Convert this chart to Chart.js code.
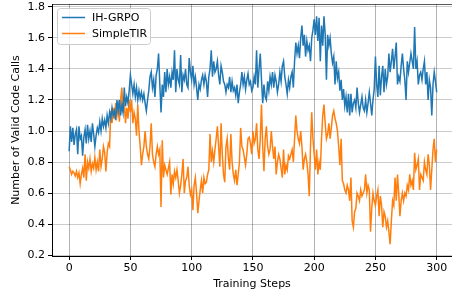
<!DOCTYPE html>
<html>
<head>
<meta charset="utf-8">
<script src="https://cdn.jsdelivr.net/npm/chart.js@4/dist/chart.umd.min.js"></script>
<style>
  html, body { margin: 0; padding: 0; background: #fff; overflow: hidden; }
  canvas { display: block; }
</style>
</head>
<body>
<canvas id="chart" width="452" height="293"></canvas>
<script>
// values, one per training step (0..300)
const ihGrpo = [
  0.87, 1.03, 0.93, 1.02, 0.91, 0.98, 1.01, 0.85, 1.03, 0.95,
  0.97, 0.84, 0.96, 1.01, 0.92, 1.04, 0.95, 1.00, 0.93, 1.05,
  0.98, 0.90, 0.97, 1.02, 0.99, 1.06, 1.00, 1.08, 1.03, 1.07,
  1.02, 1.10, 1.05, 1.12, 1.08, 1.15, 1.10, 1.13, 1.07, 1.20,
  1.13, 1.20, 1.10, 1.17, 1.12, 1.28, 1.16, 1.22, 1.18, 1.26,
  1.36, 1.30, 1.24, 1.30, 1.22, 1.28, 1.20, 1.26, 1.21, 1.25,
  1.20, 1.24, 1.18, 1.13, 1.20, 1.26, 1.35, 1.38, 1.28, 1.33,
  1.22, 1.36, 1.40, 1.50, 1.30, 1.12, 1.30, 1.22, 1.38, 1.25,
  1.40, 1.30, 1.35, 1.28, 1.38, 1.33, 1.52, 1.25, 1.40, 1.33,
  1.30, 1.49, 1.25, 1.36, 1.33, 1.40, 1.30, 1.28, 1.47, 1.38,
  1.33, 1.42, 1.30, 1.35, 1.28, 1.20, 1.30, 1.27, 1.33, 1.36,
  1.30, 1.36, 1.32, 1.22, 1.35, 1.40, 1.52, 1.35, 1.45, 1.38,
  1.40, 1.45, 1.36, 1.30, 1.42, 1.38, 1.32, 1.30, 1.25, 1.30,
  1.28, 1.35, 1.25, 1.32, 1.26, 1.28, 1.23, 1.30, 1.18, 1.25,
  1.30, 1.38, 1.30, 1.35, 1.27, 1.33, 1.37, 1.30, 1.32, 1.26,
  1.28, 1.35, 1.30, 1.52, 1.28, 1.40, 1.50, 1.33, 1.18, 1.30,
  1.22, 1.20, 1.32, 1.26, 1.35, 1.30, 1.38, 1.28, 1.36, 1.32,
  1.25, 1.30, 1.38, 1.32, 1.42, 1.45, 1.35, 1.30, 1.24, 1.33,
  1.28, 1.35, 1.38, 1.28, 1.45, 1.57, 1.50, 1.55, 1.47, 1.60,
  1.68, 1.55, 1.62, 1.48, 1.58, 1.52, 1.55, 1.45, 1.60, 1.65,
  1.72, 1.62, 1.74, 1.58, 1.73, 1.45, 1.68, 1.55, 1.74, 1.62,
  1.33, 1.62, 1.55, 1.60, 1.50, 1.44, 1.48, 1.30, 1.45, 1.34,
  1.38, 1.26, 1.33, 1.20, 1.27, 1.16, 1.22, 1.12, 1.24, 1.10,
  1.24, 1.12, 1.18, 1.20, 1.15, 1.28, 1.18, 1.12, 1.17, 1.22,
  1.15, 1.13, 1.20, 1.12, 1.18, 1.25, 1.18, 1.10, 1.20, 1.27,
  1.48, 1.30, 1.22, 1.42, 1.23, 1.35, 1.42, 1.25, 1.40, 1.30,
  1.35, 1.50, 1.38, 1.45, 1.53, 1.40, 1.48, 1.57, 1.30, 1.35,
  1.32, 1.42, 1.50, 1.40, 1.33, 1.20, 1.45, 1.38, 1.44, 1.50,
  1.45, 1.40, 1.67, 1.40, 1.45, 1.30, 1.36, 1.38, 1.33, 1.40,
  1.45, 1.30, 1.38, 1.20, 1.33, 1.28, 1.10, 1.30, 1.38, 1.32,
  1.25
];
const simpleTir = [
  0.77, 0.75, 0.72, 0.74, 0.73, 0.71, 0.74, 0.70, 0.73, 0.66,
  0.72, 0.76, 0.70, 0.85, 0.68, 0.80, 0.76, 0.82, 0.74, 0.79,
  0.76, 0.83, 0.75, 0.80, 0.74, 0.88, 0.77, 0.82, 0.90, 0.86,
  0.74, 0.86, 0.92, 0.90, 1.13, 1.05, 1.15, 1.08, 1.18, 1.10,
  1.16, 1.06, 1.20, 1.28, 1.12, 1.18, 1.05, 1.15, 1.08, 1.20,
  1.12, 1.20, 1.05, 1.12, 1.08, 0.97, 1.17, 1.00, 0.90, 0.78,
  0.85, 0.90, 1.00, 0.90, 0.85, 0.82, 0.90, 1.05, 0.85, 0.80,
  0.77, 0.85, 0.90, 0.85, 0.88, 0.51, 0.94, 0.70, 0.78, 0.75,
  0.72, 0.76, 0.80, 0.59, 0.72, 0.66, 0.74, 0.70, 0.75, 0.68,
  0.60, 0.65, 0.72, 0.82, 0.60, 0.68, 0.70, 0.77, 0.65, 0.59,
  0.62, 0.49, 0.65, 0.70, 0.60, 0.47, 0.55, 0.62, 0.68, 0.60,
  0.70, 0.66, 0.67, 0.72, 0.75, 0.98, 0.80, 0.87, 0.80, 0.88,
  0.95, 1.03, 0.90, 0.77, 1.05, 0.85, 0.72, 0.67, 0.90, 0.95,
  0.82, 0.75, 0.98, 0.80, 0.72, 0.68, 0.75, 0.65, 0.72, 0.80,
  1.02, 0.90, 0.88, 0.83, 0.78, 0.85, 0.95, 0.96, 0.92, 0.85,
  1.00, 0.92, 0.95, 1.05, 0.88, 0.82, 0.95, 1.17, 0.90, 0.74,
  0.95, 1.03, 0.90, 0.85, 0.88, 1.00, 0.90, 0.82, 0.90, 0.72,
  0.80, 0.85, 0.82, 0.76, 0.70, 0.88, 0.72, 0.78, 0.75, 0.84,
  0.82, 0.85, 0.88, 0.80, 0.95, 1.10, 1.00, 0.95, 0.92, 1.00,
  0.90, 0.75, 0.82, 0.85, 0.80, 0.72, 0.58, 0.90, 1.12, 0.95,
  0.85, 0.75, 0.88, 0.72, 0.80, 0.75, 0.95, 1.10, 1.17, 1.05,
  0.95, 0.98, 1.05, 0.95, 1.02, 1.10, 1.13, 1.08, 1.05, 1.00,
  0.90, 0.78, 0.95, 0.68, 0.66, 0.62, 0.60, 0.65, 0.62, 0.55,
  0.70, 0.42, 0.38, 0.48, 0.50, 0.60, 0.58, 0.55, 0.62, 0.58,
  0.60, 0.62, 0.72, 0.60, 0.65, 0.62, 0.35, 0.50, 0.60, 0.55,
  0.52, 0.58, 0.62, 0.45, 0.58, 0.52, 0.38, 0.48, 0.45, 0.38,
  0.42, 0.35, 0.27, 0.42, 0.55, 0.52, 0.70, 0.55, 0.72, 0.60,
  0.45, 0.55, 0.60, 0.55, 0.60, 0.58, 0.65, 0.62, 0.72, 0.65,
  0.68, 0.62, 0.86, 0.75, 0.78, 0.82, 0.62, 0.72, 0.70, 0.68,
  0.80, 0.75, 0.72, 0.85, 0.78, 0.62, 0.75, 0.88, 0.95, 0.80,
  0.88
];
const seriesNames = ['IH-GRPO', 'SimpleTIR'];
const seriesColors = ['#1f77b4', '#ff7f0e'];
const xTicks = [0, 50, 100, 150, 200, 250, 300];
const yTicks = [0.2, 0.4, 0.6, 0.8, 1.0, 1.2, 1.4, 1.6, 1.8];

const FONT = 'DejaVu Sans';
const toPoints = arr => arr.map((v, step) => ({ x: step, y: v }));

// matplotlib-like frame: top spine + framed legend in the upper left
const framePlugin = {
  id: 'frame',
  afterDatasetsDraw(chart) {
    const { ctx, chartArea } = chart;
    ctx.save();
    ctx.strokeStyle = 'rgba(0,0,0,0.65)';
    ctx.lineWidth = 1;
    ctx.beginPath();
    ctx.moveTo(chartArea.left, chartArea.top + 0.5);
    ctx.lineTo(chartArea.right, chartArea.top + 0.5);
    ctx.stroke();

    const bx = chartArea.left + 5.5, by = chartArea.top + 4.5, bw = 93, bh = 36;
    ctx.fillStyle = 'rgba(255,255,255,0.8)';
    ctx.strokeStyle = '#cccccc';
    ctx.beginPath();
    ctx.roundRect(bx, by, bw, bh, 3);
    ctx.fill();
    ctx.stroke();

    ctx.font = '11px "' + FONT + '"';
    ctx.textBaseline = 'middle';
    ctx.textAlign = 'left';
    seriesNames.forEach((name, i) => {
      const yy = by + 9 + i * 16;
      ctx.strokeStyle = seriesColors[i];
      ctx.lineWidth = 1.5;
      ctx.beginPath();
      ctx.moveTo(bx + 4.5, yy);
      ctx.lineTo(bx + 27.5, yy);
      ctx.stroke();
      ctx.fillStyle = '#000';
      ctx.fillText(name, bx + 34.5, yy + 0.5);
    });
    ctx.restore();
  }
};

new Chart(document.getElementById('chart'), {
  type: 'line',
  data: {
    datasets: [
      { label: seriesNames[0], data: toPoints(ihGrpo), borderColor: seriesColors[0], borderWidth: 1.5, pointRadius: 0, tension: 0 },
      { label: seriesNames[1], data: toPoints(simpleTir), borderColor: seriesColors[1], borderWidth: 1.5, pointRadius: 0, tension: 0 }
    ]
  },
  options: {
    responsive: false,
    animation: false,
    layout: { padding: { top: 4, right: 0, left: 0, bottom: 0 } },
    scales: {
      x: {
        type: 'linear', min: -14, max: 312.5,
        afterBuildTicks: s => { s.ticks = xTicks.map(v => ({ value: v })); },
        afterFit: s => { s.height = 37; s.paddingLeft = 0; s.paddingRight = 0; },
        grid: { color: 'rgba(0,0,0,0.3)', lineWidth: 1, tickLength: 4, tickColor: '#000' },
        border: { color: '#000', width: 1 },
        ticks: { font: { family: FONT, size: 11 }, color: '#000', padding: 2, maxRotation: 0 },
        title: { display: true, text: 'Training Steps', font: { family: FONT, size: 11 }, color: '#000', padding: { top: 0, bottom: 2 } }
      },
      y: {
        min: 0.194, max: 1.819,
        afterBuildTicks: s => { s.ticks = yTicks.map(v => ({ value: v })); },
        afterFit: s => { s.width = 52; s.paddingTop = 0; s.paddingBottom = 0; },
        grid: { color: 'rgba(0,0,0,0.2)', lineWidth: 1, tickLength: 4, tickColor: '#000' },
        border: { color: '#000', width: 1 },
        ticks: { font: { family: FONT, size: 11 }, color: '#000', padding: 3, callback: v => v.toFixed(1) },
        title: { display: true, text: 'Number of Valid Code Calls', font: { family: FONT, size: 11 }, color: '#000', padding: { top: 10, bottom: 0 } }
      }
    },
    plugins: {
      legend: { display: false },
      tooltip: { enabled: false }
    }
  },
  plugins: [framePlugin]
});
</script>
</body>
</html>
